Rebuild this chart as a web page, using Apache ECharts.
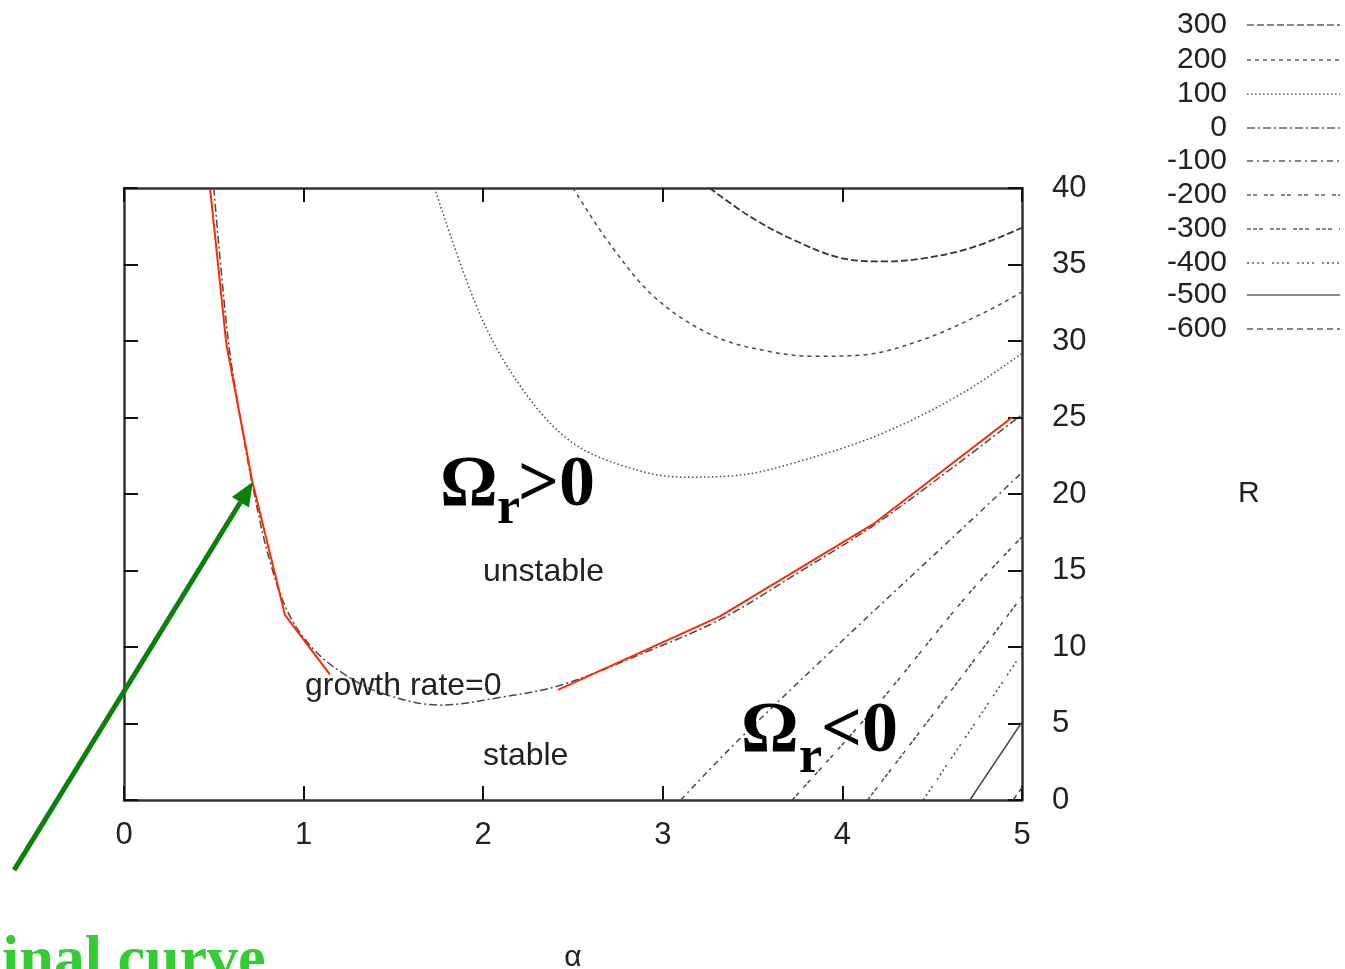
<!DOCTYPE html>
<html>
<head>
<meta charset="utf-8">
<title>growth rate contours</title>
<script src="https://cdn.jsdelivr.net/npm/echarts@6/dist/echarts.min.js"></script>
<style>
    html, body { margin: 0; padding: 0; background: #fff; }
    #main { width: 1345px; height: 969px; }
</style>
</head>
<body>
<div id="main"></div>
<script>
    // 等值线数据 [alpha, R]
    var c300 = [[3.26,40],[3.49,38.1],[3.73,36.6],[4.0,35.4],[4.23,35.2],[4.45,35.4],[4.72,36.1],[5.0,37.4]];
    var c200 = [[2.5,40],[2.72,36.1],[2.97,32.7],[3.29,30.3],[3.6,29.3],[3.84,29.0],[4.12,29.1],[4.45,30.1],[4.78,31.8],[5.0,33.2]];
    var c100 = [[1.73,40],[1.98,31.8],[2.21,27.0],[2.48,23.5],[2.79,21.8],[3.11,21.1],[3.4,21.2],[3.78,22.2],[4.23,24.0],[4.67,26.6],[5.0,29.2]];
    var c0 = [[0.5,40],[0.58,30.1],[0.65,24.8],[0.72,20.3],[0.81,15.7],[0.92,12.1],[1.06,9.8],[1.23,8.2],[1.43,7.0],[1.76,6.2],[2.09,6.7],[2.43,7.5],[2.87,9.5],[3.32,11.8],[3.76,14.9],[4.18,18.0],[4.6,21.6],[5.0,25.2]];
    var cm100 = [[3.1,0],[3.42,3.9],[4.08,11.3],[4.6,17.0],[5.0,21.4]];
    var cm200 = [[3.72,0],[4.2,6.3],[4.69,13.3],[5.0,17.2]];
    var cm300 = [[4.14,0],[4.57,6.6],[5.0,13.3]];
    var cm400 = [[4.45,0],[4.72,4.7],[5.0,9.6]];
    var cm500 = [[4.71,0],[5.0,5.1]];
    var cm600 = [[4.95,0],[5.0,0.8]];
    // 手画的红线
    var redLeft = [[0.48,39.9],[0.57,29.8],[0.713,20.9],[0.896,12.1],[1.147,8.2]];
    var redRight = [[2.416,7.2],[3.318,12.0],[4.18,18.1],[4.944,25.0]];

    var levels = ['300','200','100','0','-100','-200','-300','-400','-500','-600'];
    var levelData = [c300, c200, c100, c0, cm100, cm200, cm300, cm400, cm500, cm600];
    var levelDash = [[7,3],[4,4],[1.5,2.5],[8,3,2,3],[6,4,2,4],[4,2,4,7],[4,2,4,2,4,7],[2,3,2,3,2,3,2,8],'solid',[6,4]];
    var legendRowY = [26,61,95,129,162,196,230,264,296,330];

    var sans = 'Liberation Sans';
    var serif = 'Liberation Serif';

    var myChart = echarts.init(document.getElementById('main'));

    var series = [];
    for (var i = 0; i < levels.length; i++) {
        var col = i == 0 ? '#333' : '#4a4a4a';
        series.push({
            name: levels[i],
            type: 'line',
            data: levelData[i],
            smooth: 0.35,
            showSymbol: false,
            symbol: 'none',
            silent: true,
            itemStyle: { color: col },
            lineStyle: { color: col, width: i == 0 ? 1.8 : 1.5, type: levelDash[i] }
        });
    }
    [redLeft, redRight].forEach(function (d) {
        series.push({
            type: 'line', data: d, showSymbol: false, symbol: 'none', silent: true,
            itemStyle: { color: '#ff2a00' },
            lineStyle: { color: '#ff2a00', width: 2 }
        });
    });

    // 每个等级一个图例，方便右对齐
    var legends = [];
    for (var j = 0; j < levels.length; j++) {
        legends.push({
            data: [levels[j]],
            right: 4,
            top: legendRowY[j] - 16,
            align: 'right',
            padding: 0,
            itemWidth: 93,
            itemHeight: 12,
            selectedMode: false,
            itemStyle: { opacity: 0 },
            lineStyle: { color: '#888' },
            textStyle: { fontSize: 30, fontFamily: sans, color: '#222', padding: [0, 15, 0, 0] }
        });
    }

    var axisLine = { show: true, onZero: false, lineStyle: { color: '#333', width: 2.5 } };
    var axisTick = { show: true, inside: true, length: 14, lineStyle: { color: '#111', width: 2 } };

    var option = {
        backgroundColor: '#fff',
        animation: false,
        legend: legends,
        grid: { left: 124, right: 323, top: 188, bottom: 169, containLabel: false, outerBoundsMode: 'none' },
        xAxis: [{
            type: 'value', min: 0, max: 5, interval: 1, position: 'bottom',
            axisLine: axisLine, axisTick: axisTick, splitLine: { show: false },
            axisLabel: { fontSize: 31, fontFamily: sans, color: '#222', margin: 20 },
            name: 'α', nameLocation: 'middle', nameGap: 143,
            nameTextStyle: { fontSize: 30, fontFamily: sans, color: '#222' }
        }, {
            type: 'value', min: 0, max: 5, interval: 1, position: 'top',
            axisLine: axisLine, axisTick: axisTick, splitLine: { show: false },
            axisLabel: { show: false }
        }],
        yAxis: [{
            type: 'value', min: 0, max: 40, interval: 5, position: 'right',
            axisLine: axisLine, axisTick: axisTick, splitLine: { show: false },
            axisLabel: { fontSize: 31, fontFamily: sans, color: '#222', margin: 30 },
            name: 'R', nameLocation: 'middle', nameGap: 216, nameRotate: 0,
            nameTextStyle: { fontSize: 30, fontFamily: sans, color: '#222' }
        }, {
            type: 'value', min: 0, max: 40, interval: 5, position: 'left',
            axisLine: axisLine, axisTick: axisTick, splitLine: { show: false },
            axisLabel: { show: false }
        }],
        series: series
    };
    myChart.setOption(option);

    // 标注文字和绿色箭头
    function txt(s, x, y, size, family, weight, color) {
        return {
            type: 'text', silent: true, z: 100,
            style: {
                text: s, x: x, y: y, fill: color || '#222',
                fontSize: size, fontFamily: family, fontWeight: weight || 'normal',
                align: 'left', verticalAlign: 'middle', textAlign: 'left', textVerticalAlign: 'middle'
            }
        };
    }

    var tip = myChart.convertToPixel({ gridIndex: 0 }, [0.718, 20.8]);
    var tail = myChart.convertToPixel({ gridIndex: 0 }, [-0.612, -4.58]);
    var dx = tip[0] - tail[0], dy = tip[1] - tail[1];
    var len = Math.sqrt(dx * dx + dy * dy);
    var ux = dx / len, uy = dy / len;
    var bx = tip[0] - ux * 24, by = tip[1] - uy * 24;
    var nx = -uy * 10, ny = ux * 10;
    var green = '#0b800b';

    myChart.setOption({
        graphic: [
            txt('Ω', 440, 486, 72, serif, 'bold', '#000'),
            txt('r', 497, 510, 52, serif, 'bold', '#000'),
            txt('>0', 518, 486, 72, serif, 'bold', '#000'),
            txt('Ω', 741, 732, 72, serif, 'bold', '#000'),
            txt('r', 799, 759, 52, serif, 'bold', '#000'),
            txt('<0', 821, 732, 72, serif, 'bold', '#000'),
            txt('unstable', 483, 572, 32, sans),
            txt('stable', 483, 756, 32, sans),
            txt('growth rate=0', 305, 686, 32, sans),
            txt('inal curve', 2, 962, 62, serif, 'bold', '#33cc33'),
            {
                type: 'line', silent: true, z: 100,
                shape: { x1: tail[0], y1: tail[1], x2: bx, y2: by },
                style: { stroke: green, lineWidth: 5 }
            },
            {
                type: 'polygon', silent: true, z: 100,
                shape: { points: [[tip[0], tip[1]], [bx + nx, by + ny], [bx - nx, by - ny]] },
                style: { fill: green }
            }
        ]
    });
</script>
</body>
</html>
